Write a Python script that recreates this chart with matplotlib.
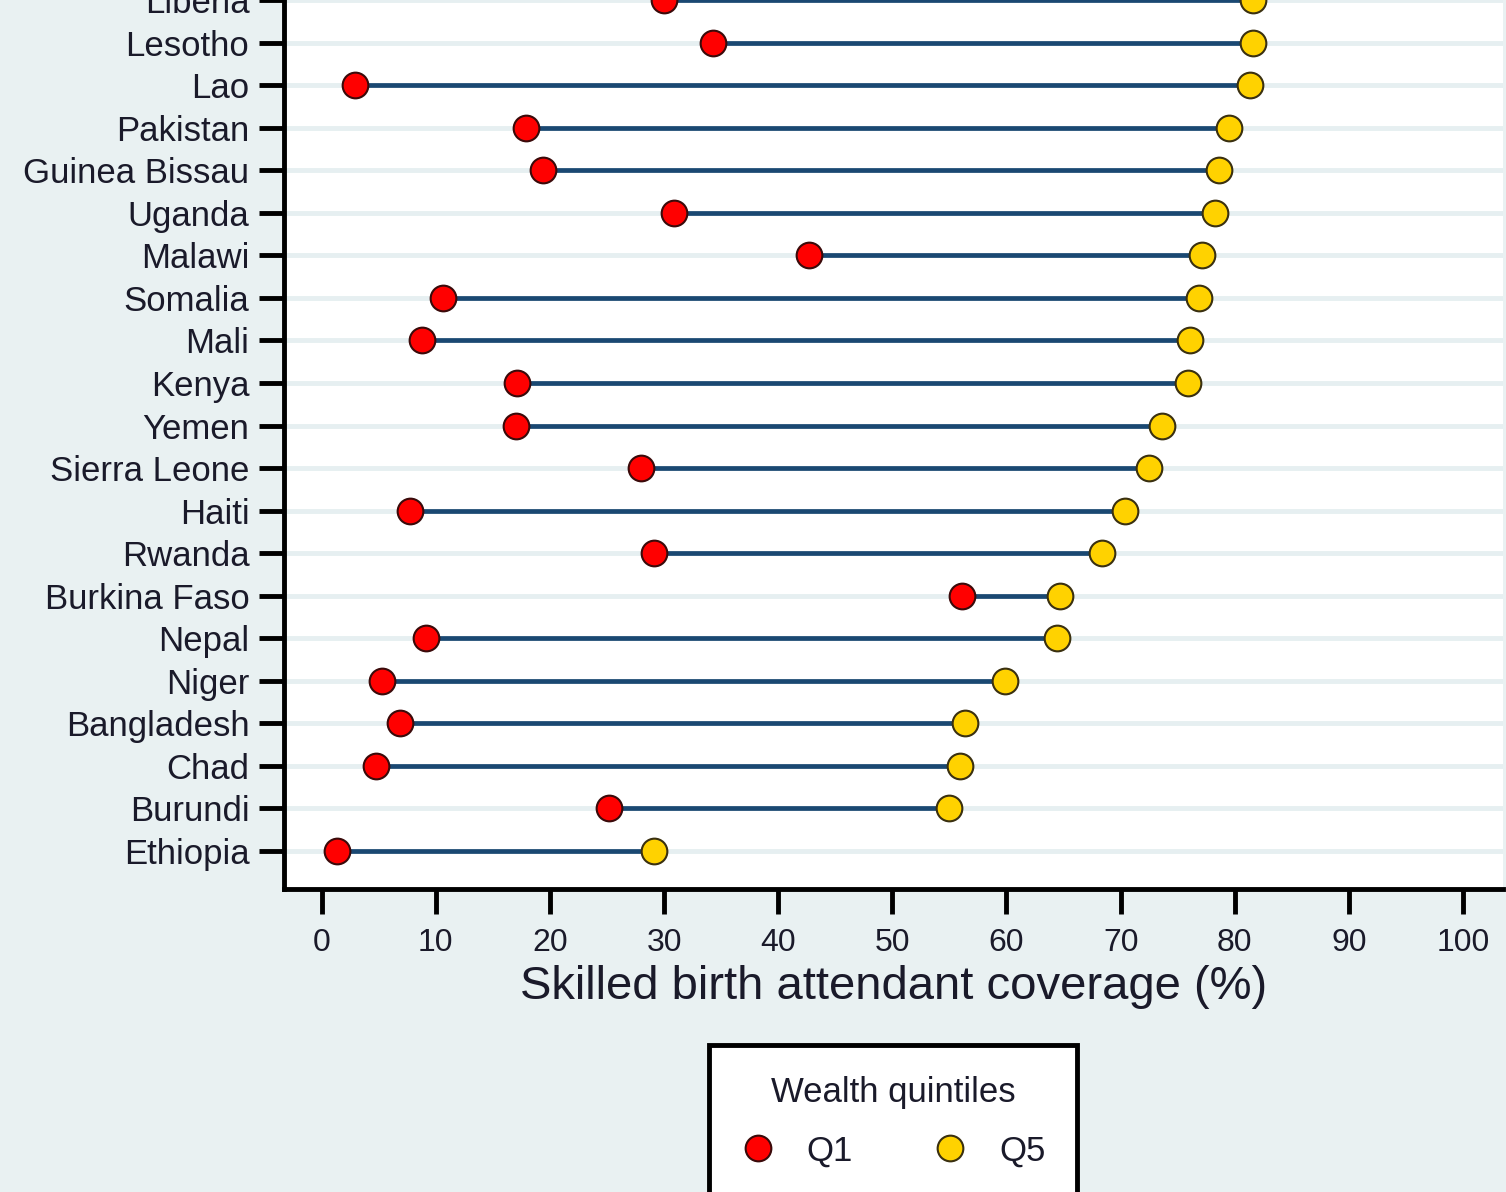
import matplotlib
matplotlib.use("Agg")
import matplotlib.pyplot as plt
from matplotlib.lines import Line2D

# countries, bottom row first
countries = ["Ethiopia", "Burundi", "Chad", "Bangladesh", "Niger", "Nepal",
             "Burkina Faso", "Rwanda", "Haiti", "Sierra Leone", "Yemen", "Kenya",
             "Mali", "Somalia", "Malawi", "Uganda", "Guinea Bissau", "Pakistan",
             "Lao", "Lesotho", "Liberia"]
q1 = [1.3, 25.2, 4.8, 6.9, 5.3, 9.1, 56.1, 29.1, 7.7, 28.0, 17.0, 17.1,
      8.8, 10.6, 42.7, 30.9, 19.4, 17.9, 2.9, 34.3, 30.0]
q5 = [29.1, 55.0, 55.9, 56.4, 59.9, 64.4, 64.7, 68.4, 70.4, 72.5, 73.6, 75.9,
      76.1, 76.9, 77.1, 78.3, 78.6, 79.5, 81.3, 81.6, 81.6]
xticks = list(range(0, 101, 10))

bg = "#e9f1f2"
red = "#ff0000"
yellow = "#ffd200"
navy = "#1a4872"
txt = "#1a1a2a"

plt.rcParams['font.family'] = ['Liberation Sans', 'DejaVu Sans']

fig = plt.figure(figsize=(15.06, 11.92), dpi=100, facecolor=bg)
# axes run past the top edge: the chart is cropped there
ax = fig.add_axes([284/1506, 303/1192, (1503-284)/1506, 0.78])
ax.set_facecolor("white")

ypos = list(range(len(countries)))
ylo, px_per_row = -0.893, 42.55
ax_h_px = 0.78 * 1192
ax.set_ylim(ylo, ylo + ax_h_px / px_per_row)
ax.set_xlim(-3.3, 103.5)

for y in ypos:
    ax.axhline(y, color="#e6eff1", lw=3.5, zorder=1)

for y, a, b in zip(ypos, q1, q5):
    ax.plot([a, b], [y, y], color=navy, lw=3.4, zorder=2, solid_capstyle="butt")
ax.plot(q1, ypos, "o", ms=18.5, mfc=red, mec="#3a0a0a", mew=1.5, zorder=3, lw=0)
ax.plot(q5, ypos, "o", ms=18.5, mfc=yellow, mec="#3a3010", mew=1.5, zorder=3, lw=0)

ax.set_yticks(ypos)
ax.set_yticklabels(countries, fontsize=25, color=txt)
ax.set_xticks(xticks)
ax.set_xticklabels([str(t) for t in xticks], fontsize=23, color=txt)
ax.tick_params(axis="both", length=18, width=3.5, color="black", direction="out")
ax.tick_params(axis="y", pad=7)
ax.tick_params(axis="x", pad=10)
ax.set_xlabel("Skilled birth attendant coverage (%)", fontsize=34, color=txt, labelpad=5)

for s in ["top", "right"]:
    ax.spines[s].set_visible(False)
for s in ["left", "bottom"]:
    ax.spines[s].set_linewidth(3.5)
    ax.spines[s].set_color("black")

h1 = Line2D([], [], marker="o", ls="none", ms=18.5, mfc=red, mec="#3a0a0a", mew=1.5)
h5 = Line2D([], [], marker="o", ls="none", ms=18.5, mfc=yellow, mec="#3a3010", mew=1.5)
leg = fig.legend([h1, h5], ["Q1", "Q5"], title="Wealth quintiles", ncol=2,
                 loc="upper center", bbox_to_anchor=(893/1506, 1 - 1045/1192),
                 borderaxespad=0,
                 fontsize=25, title_fontsize=25, frameon=True, fancybox=False,
                 edgecolor="black", facecolor="white", framealpha=1,
                 borderpad=0.9, columnspacing=2.3, handlelength=1.0,
                 handletextpad=0.91, labelspacing=0.5)
leg.get_frame().set_linewidth(3.5)
leg._legend_box.sep = 18
for t in leg.get_texts():
    t.set_color(txt)
leg.get_title().set_color(txt)

fig.savefig("out.png", dpi=100, facecolor=bg)
